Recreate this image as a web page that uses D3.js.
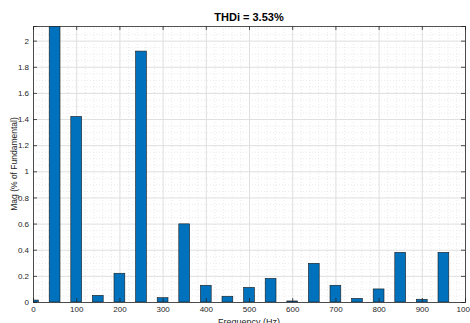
<!DOCTYPE html>
<html>
<head>
<meta charset="utf-8">
<script src="https://cdn.jsdelivr.net/npm/d3@7"></script>
<style>
  body { margin: 0; background: #fff; }
  svg { display: block; font-family: "Liberation Sans", Arial, sans-serif; }
</style>
</head>
<body>
<div id="chart"></div>
<script>
// harmonic spectrum, % of fundamental (50 Hz bar goes off the top)
let freqs = [0, 50, 100, 150, 200, 250, 300, 350, 400, 450, 500, 550, 600, 650, 700, 750, 800, 850, 900, 950]
let mags = [0.015, 100, 1.42, 0.051, 0.22, 1.92, 0.033, 0.598, 0.128, 0.044, 0.112, 0.181, 0.008, 0.296, 0.128, 0.028, 0.1, 0.38, 0.021, 0.38]
let xTicks = [0, 100, 200, 300, 400, 500, 600, 700, 800, 900, 1000]
let yTicks = [0, 0.2, 0.4, 0.6, 0.8, 1, 1.2, 1.4, 1.6, 1.8, 2]
let titleText = "THDi = 3.53%"

let margin = { top: 26, right: 5, bottom: 21, left: 33 }
let W = 470, H = 323
let width = W - margin.left - margin.right
let height = H - margin.top - margin.bottom

let x = d3.scaleLinear().domain([0, 1000]).range([0, width])
let y = d3.scaleLinear().domain([0, 2.112]).range([height, 0])

let svg = d3.select("#chart").append("svg")
    .attr("width", W)
    .attr("height", H)

let g = svg.append("g")
    .attr("transform", "translate(" + margin.left + "," + margin.top + ")")

// clip for bars
svg.append("defs").append("clipPath").attr("id", "clip")
    .append("rect").attr("width", width).attr("height", height)

// minor grid
let xMinor = d3.range(0, 1001, 20).filter(v => v % 100 !== 0)
let yMinor = d3.range(0, 2.11, 0.05).filter(v => Math.abs(v / 0.2 - Math.round(v / 0.2)) > 0.01)

g.selectAll(".xminor").data(xMinor).enter().append("line")
    .attr("x1", d => x(d) + 0.5).attr("x2", d => x(d) + 0.5)
    .attr("y1", 0).attr("y2", height)
    .attr("stroke", "#e2e2e2").attr("stroke-width", 0.7)
    .attr("stroke-dasharray", "1,2")

g.selectAll(".yminor").data(yMinor).enter().append("line")
    .attr("x1", 0).attr("x2", width)
    .attr("y1", d => y(d) + 0.5).attr("y2", d => y(d) + 0.5)
    .attr("stroke", "#e2e2e2").attr("stroke-width", 0.7)
    .attr("stroke-dasharray", "1,2")

// major grid
g.selectAll(".xgrid").data(xTicks).enter().append("line")
    .attr("x1", d => x(d) + 0.5).attr("x2", d => x(d) + 0.5)
    .attr("y1", 0).attr("y2", height)
    .attr("stroke", "#dfdfdf").attr("stroke-width", 1)

g.selectAll(".ygrid").data(yTicks).enter().append("line")
    .attr("x1", 0).attr("x2", width)
    .attr("y1", d => y(d) + 0.5).attr("y2", d => y(d) + 0.5)
    .attr("stroke", "#dfdfdf").attr("stroke-width", 1)

// bars
let barW = x(25) - x(0)
g.append("g").attr("clip-path", "url(#clip)")
    .selectAll("rect").data(freqs).enter().append("rect")
    .attr("x", (d) => x(d) - barW / 2)
    .attr("y", (d, i) => y(mags[i]))
    .attr("width", barW)
    .attr("height", (d, i) => height - y(mags[i]))
    .attr("fill", "#0072BD")
    .attr("stroke", "#1a1a1a")
    .attr("stroke-width", 0.6)

// axes (ticks inward like matlab)
let xAxis = g.append("g")
    .attr("transform", "translate(0," + height + ")")
    .call(d3.axisBottom(x).tickValues(xTicks).tickSize(-4).tickPadding(4).tickFormat(d3.format("d")))
let xTop = g.append("g")
    .call(d3.axisTop(x).tickValues(xTicks).tickSize(-4).tickFormat(""))
let yAxis = g.append("g")
    .call(d3.axisLeft(y).tickValues(yTicks).tickSize(-4).tickPadding(4).tickFormat(d => d3.format("")(+d.toFixed(1))))
let yRight = g.append("g")
    .attr("transform", "translate(" + width + ",0)")
    .call(d3.axisRight(y).tickValues(yTicks).tickSize(-4).tickFormat(""))

;[xAxis, xTop, yAxis, yRight].forEach(a => {
    a.select(".domain").attr("stroke", "#262626").attr("stroke-width", 0.8)
    a.selectAll(".tick line").attr("stroke", "#262626").attr("stroke-width", 0.8)
    a.selectAll("text").attr("fill", "#262626").style("font-size", "8px")
})

// labels
svg.append("text")
    .attr("x", margin.left + width / 2)
    .attr("y", 21)
    .attr("text-anchor", "middle")
    .style("font-size", "11px")
    .style("font-weight", "bold")
    .attr("fill", "#000")
    .text(titleText)

svg.append("text")
    .attr("x", margin.left + width / 2)
    .attr("y", 325)
    .attr("text-anchor", "middle")
    .style("font-size", "9px")
    .attr("fill", "#262626")
    .text("Frequency (Hz)")

svg.append("text")
    .attr("transform", "translate(" + 17 + "," + (margin.top + height / 2) + ") rotate(-90)")
    .attr("text-anchor", "middle")
    .style("font-size", "8.5px")
    .attr("fill", "#262626")
    .text("Mag (% of Fundamental)")
</script>
</body>
</html>
